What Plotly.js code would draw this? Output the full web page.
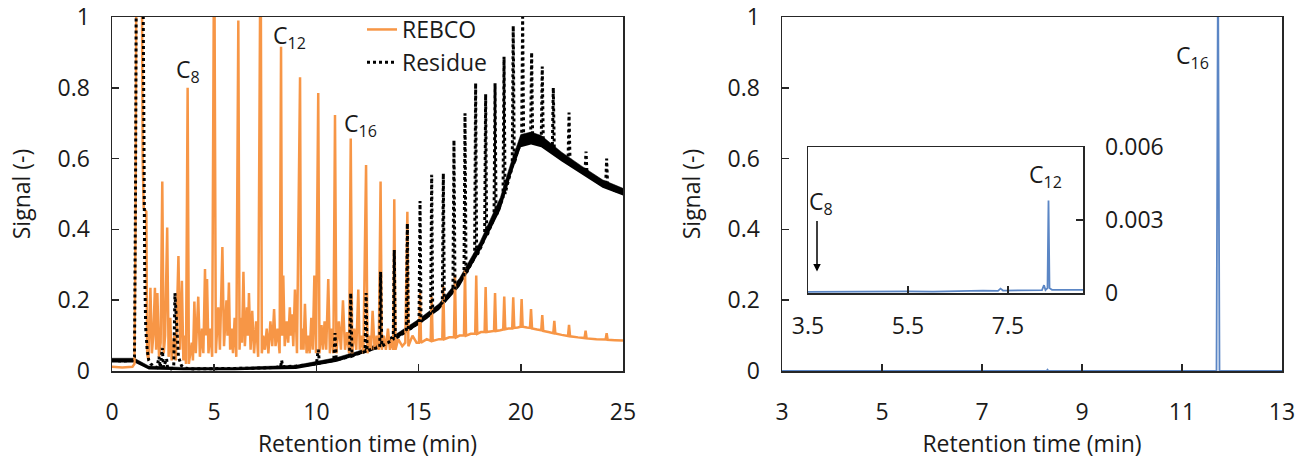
<!DOCTYPE html>
<html>
<head>
<meta charset="utf-8">
<script src="https://cdn.plot.ly/plotly-3.0.1.min.js"></script>
<style>
  html, body { margin: 0; padding: 0; background: #ffffff; }
  #chart { width: 1306px; height: 464px; }
</style>
</head>
<body>
<div id="chart"></div>
<script>
// ---------- DATA ----------
// REBCO chromatogram (left panel), retention time in min
const rebcoTime = [
  0, 0.5, 1.0, 1.1, 1.15, 1.2, 1.45, 1.5, 1.55, 1.68,
  1.72, 1.78, 1.88, 1.95, 2.02, 2.1, 2.16, 2.22, 2.3, 2.38,
  2.46, 2.53, 2.6, 2.7, 2.77, 2.85, 2.92, 3.05, 3.12, 3.25,
  3.33, 3.42, 3.49, 3.55, 3.62, 3.7, 3.76, 3.9, 3.96, 4.03,
  4.1, 4.22, 4.3, 4.4, 4.47, 4.55, 4.6, 4.65, 4.72, 4.8,
  4.9, 5.0, 5.08, 5.2, 5.28, 5.4, 5.48, 5.6, 5.65, 5.72,
  5.78, 5.85, 5.92, 6.0, 6.08, 6.18, 6.24, 6.3, 6.36, 6.43,
  6.5, 6.6, 6.65, 6.7, 6.78, 6.86, 6.95, 7.05, 7.15, 7.27,
  7.33, 7.4, 7.48, 7.57, 7.65, 7.75, 7.84, 7.93, 8.0, 8.1,
  8.2, 8.27, 8.32, 8.38, 8.45, 8.55, 8.62, 8.7, 8.75, 8.8,
  8.87, 8.95, 9.05, 9.2, 9.25, 9.3, 9.37, 9.44, 9.52, 9.6,
  9.67, 9.75, 9.82, 9.9, 9.98, 10.09, 10.15, 10.25, 10.32, 10.4,
  10.48, 10.58, 10.66, 10.75, 10.83, 10.91, 10.98, 11.1, 11.2, 11.3,
  11.4, 11.5, 11.6, 11.68, 11.75, 11.85, 11.95, 12.05, 12.12, 12.2,
  12.3, 12.43, 12.5, 12.6, 12.67, 12.75, 12.85, 12.95, 13.05, 13.14,
  13.2, 13.3, 13.4, 13.5, 13.6, 13.7, 13.76, 13.81, 13.87, 14.0,
  14.2, 14.35, 14.45, 14.5, 14.7, 14.9, 15.02, 15.07, 15.12, 15.4,
  15.59, 15.64, 15.69, 16.0, 16.16, 16.21, 16.26, 16.5, 16.73, 16.78,
  16.83, 17.0, 17.22, 17.27, 17.32, 17.55, 17.77, 17.82, 17.87, 18.05,
  18.23, 18.28, 18.33, 18.5, 18.69, 18.74, 18.79, 19.0, 19.14, 19.19,
  19.24, 19.4, 19.58, 19.63, 19.68, 19.85, 19.99, 20.04, 20.09, 20.3,
  20.45, 20.5, 20.55, 20.8, 21.0, 21.05, 21.1, 21.35, 21.59, 21.64,
  21.69, 22.0, 22.31, 22.36, 22.41, 22.8, 23.12, 23.17, 23.22, 23.7,
  24.15, 24.2, 24.25, 24.6, 25
];
const rebcoSignal = [
  0.012, 0.010, 0.012, 0.02, 0.4, 1.3, 1.3, 0.6, 0.46, 0.45,
  0.05, 0.03, 0.235, 0.05, 0.1, 0.235, 0.06, 0.22, 0.04, 0.08,
  0.535, 0.05, 0.1, 0.405, 0.04, 0.15, 0.03, 0.1, 0.03, 0.325,
  0.06, 0.255, 0.03, 0.1, 0.02, 0.8, 0.02, 0.08, 0.03, 0.196,
  0.05, 0.21, 0.04, 0.12, 0.05, 0.288, 0.1, 0.26, 0.05, 0.12,
  0.04, 1.3, 0.05, 0.18, 0.06, 0.35, 0.07, 0.2, 0.1, 0.25,
  0.06, 0.12, 0.05, 0.15, 0.04, 0.99, 0.06, 0.15, 0.08, 0.28,
  0.07, 0.18, 0.1, 0.22, 0.06, 0.17, 0.05, 0.14, 0.04, 1.3,
  0.05, 0.1, 0.06, 0.12, 0.05, 0.14, 0.07, 0.175, 0.07, 0.12,
  0.05, 0.916, 0.1, 0.27, 0.07, 0.14, 0.08, 0.18, 0.1, 0.16,
  0.07, 0.23, 0.05, 0.83, 0.06, 0.12, 0.06, 0.19, 0.05, 0.1,
  0.05, 0.15, 0.06, 0.27, 0.05, 0.785, 0.05, 0.13, 0.06, 0.14,
  0.06, 0.26, 0.05, 0.12, 0.05, 0.723, 0.05, 0.14, 0.06, 0.2,
  0.06, 0.11, 0.05, 0.657, 0.05, 0.12, 0.06, 0.23, 0.06, 0.1,
  0.05, 0.582, 0.05, 0.1, 0.06, 0.17, 0.06, 0.1, 0.06, 0.535,
  0.06, 0.1, 0.06, 0.12, 0.06, 0.09, 0.06, 0.485, 0.06, 0.09,
  0.07, 0.08, 0.45, 0.07, 0.1, 0.08, 0.08, 0.22, 0.08, 0.09,
  0.085, 0.21, 0.085, 0.09, 0.09, 0.24, 0.09, 0.095, 0.095, 0.27,
  0.095, 0.1, 0.1, 0.29, 0.1, 0.105, 0.105, 0.27, 0.105, 0.11,
  0.11, 0.237, 0.11, 0.112, 0.113, 0.22, 0.113, 0.115, 0.117, 0.21,
  0.118, 0.12, 0.12, 0.208, 0.122, 0.123, 0.125, 0.203, 0.125, 0.123,
  0.122, 0.175, 0.12, 0.117, 0.115, 0.158, 0.113, 0.11, 0.107, 0.142,
  0.106, 0.102, 0.099, 0.13, 0.098, 0.095, 0.093, 0.114, 0.092, 0.09,
  0.089, 0.107, 0.088, 0.087, 0.086
];

// Residue chromatogram (left panel)
const residueTime = [
  0, 0.5, 1.0, 1.1, 1.15, 1.2, 1.5, 1.55, 1.6, 1.65,
  1.72, 1.8, 1.9, 2.0, 2.2, 2.3, 2.36, 2.46, 2.52, 2.67,
  2.72, 2.9, 3.02, 3.08, 3.16, 3.25, 3.4, 3.6, 4.0, 5.0,
  6.0, 7.0, 8.0, 8.25, 8.3, 8.35, 9.0, 10.0, 10.09, 10.15,
  10.5, 10.85, 10.91, 10.97, 11.3, 11.62, 11.68, 11.74, 12.0, 12.38,
  12.43, 12.48, 12.8, 13.1, 13.14, 13.2, 13.5, 13.76, 13.81, 13.86,
  14.1, 14.4, 14.45, 14.5, 14.8, 15.02, 15.07, 15.12, 15.4, 15.59,
  15.64, 15.69, 15.95, 16.16, 16.21, 16.26, 16.5, 16.68, 16.73, 16.78,
  17.0, 17.22, 17.27, 17.32, 17.5, 17.74, 17.79, 17.84, 18.05, 18.23,
  18.28, 18.33, 18.5, 18.69, 18.74, 18.79, 19.0, 19.13, 19.18, 19.23,
  19.4, 19.58, 19.63, 19.68, 19.85, 20.04, 20.09, 20.14, 20.3, 20.48,
  20.53, 20.58, 20.8, 21.0, 21.05, 21.1, 21.3, 21.54, 21.59, 21.64,
  22.0, 22.31, 22.36, 22.41, 22.8, 23.14, 23.19, 23.24, 23.7, 24.15,
  24.2, 24.25, 24.6, 25
];
const residueSignal = [
  0.03, 0.028, 0.03, 0.04, 0.5, 1.3, 1.3, 0.5, 0.28, 0.12,
  0.06, 0.03, 0.02, 0.015, 0.01, 0.04, 0.01, 0.065, 0.01, 0.035,
  0.008, 0.006, 0.01, 0.22, 0.116, 0.04, 0.015, 0.008, 0.006, 0.006,
  0.007, 0.008, 0.01, 0.012, 0.03, 0.012, 0.014, 0.02, 0.06, 0.022,
  0.026, 0.03, 0.107, 0.032, 0.036, 0.04, 0.22, 0.042, 0.048, 0.055,
  0.22, 0.057, 0.063, 0.068, 0.28, 0.07, 0.08, 0.09, 0.342, 0.092,
  0.1, 0.113, 0.417, 0.115, 0.128, 0.138, 0.48, 0.14, 0.153, 0.163,
  0.554, 0.167, 0.18, 0.193, 0.558, 0.197, 0.213, 0.228, 0.652, 0.232,
  0.25, 0.27, 0.728, 0.275, 0.295, 0.32, 0.813, 0.325, 0.35, 0.375,
  0.782, 0.38, 0.405, 0.43, 0.813, 0.437, 0.47, 0.49, 0.888, 0.5,
  0.54, 0.575, 0.975, 0.585, 0.625, 0.645, 1.0, 0.65, 0.655, 0.652,
  0.9, 0.652, 0.655, 0.65, 0.86, 0.648, 0.635, 0.622, 0.8, 0.62,
  0.605, 0.59, 0.73, 0.588, 0.572, 0.56, 0.62, 0.557, 0.54, 0.523,
  0.6, 0.52, 0.51, 0.505
];

// Noise envelope of the Residue baseline (lower / upper edge of the noisy band)
const residueBandTime = [0, 1.1, 1.8, 3.5, 6, 9, 11, 12, 13, 14, 15, 16, 17, 18, 19, 19.5, 20, 20.5, 21, 22, 23, 24, 25];
const residueBandLow  = [0.024, 0.024, 0.004, 0.002, 0.002, 0.006, 0.026, 0.043, 0.062, 0.094, 0.13, 0.172, 0.238, 0.338, 0.455, 0.55, 0.632, 0.64, 0.632, 0.592, 0.556, 0.518, 0.496];
const residueBandHigh = [0.036, 0.036, 0.014, 0.01, 0.01, 0.016, 0.038, 0.055, 0.076, 0.108, 0.146, 0.19, 0.262, 0.364, 0.49, 0.585, 0.668, 0.675, 0.665, 0.618, 0.578, 0.54, 0.516];

// Right panel chromatogram (same series drawn in the main plot and in the inset)
const rightTime = [
  3.0, 3.5, 4.0, 4.5, 5.0, 5.5, 6.0, 6.5, 7.0, 7.3,
  7.35, 7.4, 7.8, 8.18, 8.22, 8.25, 8.29, 8.31, 8.33, 8.38,
  8.7, 9.0, 9.5, 10.0, 10.5, 11.0, 11.5, 11.69, 11.72, 11.75,
  12.0, 12.5, 13.0
];
const rightSignal = [
  0.00004, 0.00005, 0.00003, 0.00006, 0.00005, 0.00007, 0.00006, 0.00009, 0.0001, 0.00009,
  0.00018, 0.0001, 0.0001, 0.00012, 0.00032, 0.00012, 0.0002, 0.0038, 0.0002, 0.00013,
  0.00013, 0.00014, 0.00012, 0.0001, 0.0001, 0.0001, 0.0001, 0.0001, 1.2, 0.0001,
  0.0001, 0.0001, 0.0001
];

// Tick values
const leftXTicks = [0, 5, 10, 15, 20, 25];
const signalTicks = [0, 0.2, 0.4, 0.6, 0.8, 1];
const rightXTicks = [3, 5, 7, 9, 11, 13];
const insetXTicks = [3.5, 5.5, 7.5];
const insetYTicks = [0, 0.003, 0.006];

// ---------- STYLE ----------
const FONT = 'Open Sans, Noto Sans, sans-serif';
const TXT = '#1a1a1a';
const AX = '#262626';
const ORANGE = '#F79646';
const BLUE = '#5B86C5';

const W = 1306, H = 464;
const px = v => v / W;
const py = v => (H - v) / H;

function axisBase(extra) {
  return Object.assign({
    showline: true, linecolor: AX, linewidth: 1.5, mirror: true,
    ticks: 'inside', ticklen: 7, tickwidth: 1.5, tickcolor: AX,
    showgrid: false, zeroline: false, fixedrange: true,
    tickfont: { family: FONT, size: 23, color: TXT }
  }, extra);
}

const traces = [
  { x: residueBandTime, y: residueBandLow, xaxis: 'x', yaxis: 'y', mode: 'lines',
    line: { width: 0, color: '#000' }, showlegend: false, hoverinfo: 'skip' },
  { x: residueBandTime, y: residueBandHigh, xaxis: 'x', yaxis: 'y', mode: 'lines',
    fill: 'tonexty', fillcolor: '#000000', line: { width: 0.5, color: '#000' },
    showlegend: false, hoverinfo: 'skip' },
  { x: rebcoTime, y: rebcoSignal, xaxis: 'x', yaxis: 'y', mode: 'lines', name: 'REBCO',
    line: { color: ORANGE, width: 2.5 } },
  { x: residueTime, y: residueSignal, xaxis: 'x', yaxis: 'y', mode: 'lines', name: 'Residue',
    line: { color: '#000000', width: 3, dash: 'dot' } },
  { x: rightTime, y: rightSignal, xaxis: 'x2', yaxis: 'y2', mode: 'lines', name: 'Right',
    line: { color: BLUE, width: 1.8 }, showlegend: false },
  { x: rightTime, y: rightSignal, xaxis: 'x3', yaxis: 'y3', mode: 'lines', name: 'Inset',
    line: { color: BLUE, width: 1.8 }, showlegend: false }
];

const yDom = [py(371), py(17)];

const layout = {
  width: W, height: H,
  margin: { l: 0, r: 0, t: 0, b: 0 },
  paper_bgcolor: '#ffffff', plot_bgcolor: 'rgba(0,0,0,0)',
  font: { family: FONT, size: 23, color: TXT },
  showlegend: true,
  legend: {
    x: px(362), y: py(8), xanchor: 'left', yanchor: 'top',
    bgcolor: 'rgba(0,0,0,0)', borderwidth: 0, traceorder: 'normal',
    font: { family: FONT, size: 23, color: TXT },
    tracegroupgap: 0, itemwidth: 30
  },
  xaxis: axisBase({
    domain: [px(112), px(623)], range: [0, 25], tickvals: leftXTicks, anchor: 'y',
    ticklabelstandoff: 20,
    title: { text: 'Retention time (min)', font: { family: FONT, size: 23, color: TXT }, standoff: 8 }
  }),
  yaxis: axisBase({
    domain: yDom, range: [0, 1], tickvals: signalTicks, anchor: 'x',
    ticklabelstandoff: 16,
    title: { text: 'Signal (-)', font: { family: FONT, size: 23, color: TXT }, standoff: 20 }
  }),
  xaxis2: axisBase({
    domain: [px(782), px(1282)], range: [3, 13], tickvals: rightXTicks, anchor: 'y2',
    ticklabelstandoff: 20,
    title: { text: 'Retention time (min)', font: { family: FONT, size: 23, color: TXT }, standoff: 8 }
  }),
  yaxis2: axisBase({
    domain: yDom, range: [0, 1], tickvals: signalTicks, anchor: 'x2',
    ticklabelstandoff: 16,
    title: { text: 'Signal (-)', font: { family: FONT, size: 23, color: TXT }, standoff: 20 }
  }),
  xaxis3: axisBase({
    domain: [px(808), px(1083)], range: [3.5, 9], tickvals: insetXTicks, anchor: 'y3',
    ticklabelstandoff: 12
  }),
  yaxis3: axisBase({
    domain: [py(293), py(147)], range: [0, 0.006], tickvals: insetYTicks, anchor: 'x3',
    side: 'right', ticklabelstandoff: 16
  }),
  annotations: [
    { xref: 'x', yref: 'y', x: 3.72, y: 0.85, text: 'C<sub>8</sub>', showarrow: false,
      xanchor: 'center', yanchor: 'middle', font: { family: FONT, size: 23, color: TXT } },
    { xref: 'x', yref: 'y', x: 8.66, y: 0.945, text: 'C<sub>12</sub>', showarrow: false,
      xanchor: 'center', yanchor: 'middle', font: { family: FONT, size: 23, color: TXT } },
    { xref: 'x', yref: 'y', x: 12.16, y: 0.695, text: 'C<sub>16</sub>', showarrow: false,
      xanchor: 'center', yanchor: 'middle', font: { family: FONT, size: 23, color: TXT } },
    { xref: 'x2', yref: 'y2', x: 11.21, y: 0.888, text: 'C<sub>16</sub>', showarrow: false,
      xanchor: 'center', yanchor: 'middle', font: { family: FONT, size: 23, color: TXT } },
    { xref: 'x3', yref: 'y3', x: 8.25, y: 0.00481, text: 'C<sub>12</sub>', showarrow: false,
      xanchor: 'center', yanchor: 'middle', font: { family: FONT, size: 23, color: TXT } },
    { xref: 'x3', yref: 'y3', x: 3.75, y: 0.0037, text: 'C<sub>8</sub>', showarrow: false,
      xanchor: 'center', yanchor: 'middle', font: { family: FONT, size: 23, color: TXT } },
    { xref: 'x3', yref: 'y3', x: 3.68, y: 0.00088, text: '', showarrow: true,
      ax: 0, ay: -52, arrowhead: 2, arrowsize: 1, arrowwidth: 1.5, arrowcolor: '#000' }
  ]
};

Plotly.newPlot('chart', traces, layout, { staticPlot: true, displayModeBar: false });
</script>
</body>
</html>
